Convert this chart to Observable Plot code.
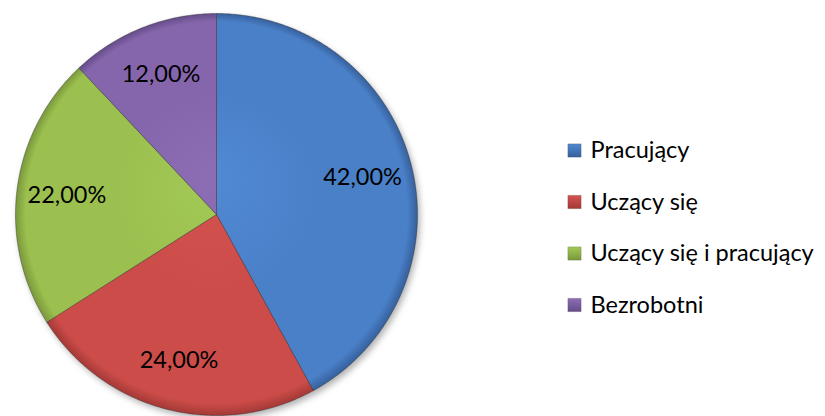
<!DOCTYPE html>
<html>
<head>
<meta charset="utf-8">
<script src="https://cdn.jsdelivr.net/npm/d3@7"></script>
<script src="https://cdn.jsdelivr.net/npm/@observablehq/plot@0.6"></script>
<style>
  html, body { margin: 0; padding: 0; background: #fff; }
  #chart { width: 825px; height: 416px; }
</style>
</head>
<body>
<div id="chart"></div>
<script>
// ---- data ----
const categories = ["Pracujący", "Uczący się", "Uczący się i pracujący", "Bezrobotni"];
const shares = [42, 24, 22, 12];
const valueLabels = ["42,00%", "24,00%", "22,00%", "12,00%"];
const baseColors = ["#4a80c8", "#cc4c49", "#9bc04f", "#8566ac"];
const lightColors = ["#5189d3", "#d45350", "#a3c957", "#8d6eb5"];
const darkColors = ["#36609c", "#a33936", "#7a983c", "#654c89"];

// ---- layout ----
const W = 825, H = 416;
const CX = 216, CY = 214, R = 201;
const FONT = "Lato, 'Open Sans', sans-serif";

// pie geometry in unit coordinates (circle of radius 1)
const arcs = d3.pie().sort(null).value(d => d)(shares);
const slicePts = [];
arcs.forEach((a, i) => {
  slicePts.push({k: i, x: 0, y: 0});
  const n = Math.max(8, Math.ceil((a.endAngle - a.startAngle) / 0.01));
  for (let j = 0; j <= n; j++) {
    const t = a.startAngle + (a.endAngle - a.startAngle) * j / n;
    slicePts.push({k: i, x: Math.sin(t), y: Math.cos(t)});
  }
  slicePts.push({k: i, x: 0, y: 0});
});
slicePts.forEach(p => p.fill = `url(#grad${p.k})`);

const labelRho = 0.75;
const labelData = arcs.map((a, i) => {
  const m = (a.startAngle + a.endAngle) / 2;
  return {x: labelRho * Math.sin(m), y: labelRho * Math.cos(m), text: valueLabels[i]};
});

// legend, placed in unit coordinates via the same scales
const toUx = px => (px - CX) / R;
const toUy = py => (CY - py) / R;
const legendY0 = 150, legendStep = 51.5;
const legendData = categories.map((c, i) => ({
  name: c,
  mx: toUx(574), tx: toUx(590), y: toUy(legendY0 + i * legendStep),
  fill: `url(#lgrad${i})`
}));

const chart = Plot.plot({
  width: W, height: H,
  margin: 0,
  x: {domain: [toUx(0), toUx(W)], range: [0, W], axis: null},
  y: {domain: [toUy(0), toUy(H)], range: [0, H], axis: null},
  color: {type: "identity"},
  style: {fontFamily: FONT, background: "#fff"},
  marks: [
    // shadow disc
    Plot.line(slicePts, {x: "x", y: "y", z: "k", fill: "#000", stroke: "none", fillOpacity: 0.3,
      render: (index, scales, values, dims, ctx, next) => {
        const g = next(index, scales, values, dims, ctx);
        g.setAttribute("filter", "url(#shadow)");
        g.setAttribute("transform", "translate(3,4)");
        return g;
      }}),
    Plot.line(slicePts, {x: "x", y: "y", z: "k", fill: "fill", stroke: "#2b2b2b", strokeWidth: 0.8, strokeOpacity: 0.5, strokeLinejoin: "round"}),
    Plot.text(labelData, {x: "x", y: "y", text: "text", fontSize: 23.5, fill: "#000"}),
    Plot.dot(legendData, {x: "mx", y: "y", symbol: "square", r: 7.5, fill: "fill", stroke: "#333", strokeWidth: 0.5, strokeOpacity: 0.4}),
    Plot.text(legendData, {x: "tx", y: "y", text: "name", textAnchor: "start", fontSize: 23.5, fill: "#000"})
  ]
});

// gradient definitions
const svgNS = "http://www.w3.org/2000/svg";
const defs = document.createElementNS(svgNS, "defs");
let html = `<filter id="shadow" x="-10%" y="-10%" width="120%" height="120%"><feGaussianBlur stdDeviation="3"/></filter>`;
baseColors.forEach((c, i) => {
  html += `<radialGradient id="grad${i}" gradientUnits="userSpaceOnUse" cx="${CX}" cy="${CY}" r="${R}" fx="${CX}" fy="${CY - 40}">
    <stop offset="0" stop-color="${lightColors[i]}"/>
    <stop offset="0.5" stop-color="${c}"/>
    <stop offset="0.95" stop-color="${c}"/>
    <stop offset="1" stop-color="${darkColors[i]}"/>
  </radialGradient>`;
  html += `<linearGradient id="lgrad${i}" x1="0" y1="0" x2="0" y2="1">
    <stop offset="0" stop-color="${lightColors[i]}"/>
    <stop offset="1" stop-color="${darkColors[i]}"/>
  </linearGradient>`;
});
defs.innerHTML = html;
chart.insertBefore(defs, chart.firstChild);

document.getElementById("chart").appendChild(chart);
</script>
</body>
</html>
